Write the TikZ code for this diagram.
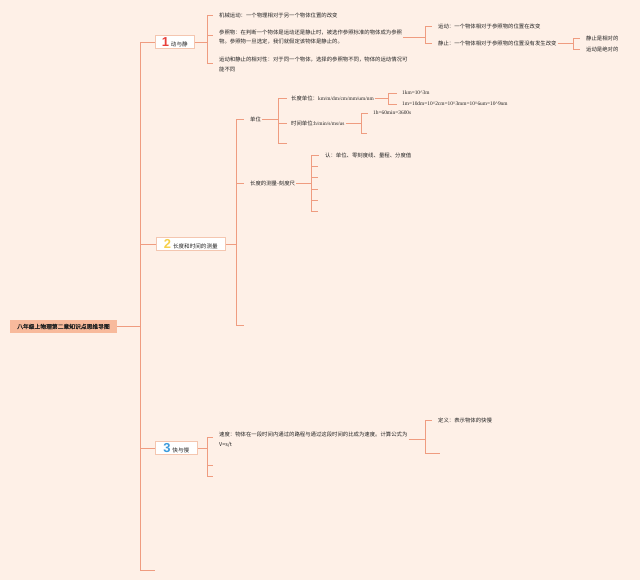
\documentclass[tikz,border=0pt]{standalone}
\usepackage{fontspec}
\setmainfont{Noto Sans CJK SC}
\newfontfamily\cjkbold[FakeBold=1.2]{Noto Sans CJK SC}
\newfontfamily\lat{Liberation Serif}
\newfontfamily\numf{Liberation Sans}
\usetikzlibrary{calc}
\definecolor{bgc}{HTML}{FEF0E7}
\definecolor{linec}{HTML}{EF9C80}
\definecolor{rootc}{HTML}{F8BA9C}
\definecolor{txt}{HTML}{222222}
\definecolor{nA}{HTML}{E8403A}
\definecolor{nB}{HTML}{F6D049}
\definecolor{nC}{HTML}{3C9BDC}
\definecolor{boxline}{HTML}{F4C6B0}
\newcommand{\bnum}[2]{\textcolor{#1}{\numf\bfseries\fontsize{13}{13}\selectfont #2}\hspace{2bp}}
\newcommand{\crt}{\textasciicircum}
\begin{document}
\begin{tikzpicture}[x=1bp,y=-1bp,
 conn/.style={draw=linec,line width=0.8bp},
 leaf/.style={anchor=west,inner xsep=1bp,inner ysep=1bp,text=txt,font=\fontsize{5.4}{9.5}\selectfont,align=left},
 leafm/.style={leaf,anchor=north west},
 branchbox/.style={draw=boxline,fill=white,line width=0.5bp,minimum height=13bp,inner sep=0pt,anchor=west,text=txt,font=\fontsize{5.6}{6}\selectfont},
 rootbox/.style={fill=rootc,minimum width=107bp,minimum height=13bp,inner sep=0pt,text=txt,font=\cjkbold\fontsize{5.8}{6}\selectfont}
]
\fill[bgc] (0,0) rectangle (640,580);
\useasboundingbox (0,0) rectangle (640,580);

% root and trunk
\node[rootbox] (root) at (63.5,326.5) {八年级上物理第二章知识点思维导图};
\coordinate (T) at (140,0);
\node[branchbox,minimum width=39bp] (b1) at (155,42) {\bnum{nA}{1}动与静};
\node[branchbox,minimum width=69bp] (b2) at (156,244) {\bnum{nB}{2}长度和时间的测量};
\node[branchbox,minimum width=42bp] (b3) at (155,448) {\bnum{nC}{3}快与慢};
\coordinate (bend) at (155,570);
\draw[conn] (root.east) -- (root.east -| T) |- (b1.west);
\draw[conn] (root.east -| T) |- (b2.west);
\draw[conn] (root.east -| T) |- (b3.west);
\draw[conn] (root.east -| T) |- (bend);

% branch 1
\coordinate (k1) at (207,0);
\node[leaf] (c11) at (218,15) {机械运动：一个物理相对于另一个物体位置的改变};
\node[leafm] (c12) at (218,28.5) {参照物：在判断一个物体是运动还是静止时，被选作参照标准的物体成为参照\\物。参照物一旦选定，我们就假定该物体是静止的。};
\node[leafm] (c13) at (218,56.2) {运动和静止的相对性：对于同一个物体，选择的参照物不同，物体的运动情况可\\能不同};
\coordinate (c12t) at ($(c12.north west)+(0,6.5)$);
\coordinate (c13t) at ($(c13.north west)+(0,7)$);
\draw[conn] (b1.east) -- (b1.east -| k1);
\draw[conn,shorten >=5bp] (b1.east -| k1) |- (c11.west);
\draw[conn,shorten >=5bp] (b1.east -| k1) |- (c12t);
\draw[conn,shorten >=5bp] (b1.east -| k1) |- (c13t);

\coordinate (k2) at (425,0);
\node[leaf] (d1) at (437,26) {运动：一个物体相对于参照物的位置在改变};
\node[leaf] (d2) at (437,43) {静止：一个物体相对于参照物的位置没有发生改变};
\draw[conn] (c12.east) -- (c12.east -| k2);
\draw[conn,shorten >=5bp] (c12.east -| k2) |- (d1.west);
\draw[conn,shorten >=5bp] (c12.east -| k2) |- (d2.west);

\coordinate (k3) at (573,0);
\node[leaf] (e1) at (585,38) {静止是相对的};
\node[leaf] (e2) at (585,49) {运动是绝对的};
\draw[conn] (d2.east) -- (d2.east -| k3);
\draw[conn,shorten >=5bp] (d2.east -| k3) |- (e1.west);
\draw[conn,shorten >=5bp] (d2.east -| k3) |- (e2.west);

% branch 2
\coordinate (k4) at (236,0);
\node[leaf] (u) at (249,119) {单位};
\node[leaf] (m) at (249,183) {长度的测量-刻度尺};
\coordinate (u3) at (244,325);
\draw[conn] (b2.east) -- (b2.east -| k4);
\draw[conn,shorten >=5bp] (b2.east -| k4) |- (u.west);
\draw[conn,shorten >=5bp] (b2.east -| k4) |- (m.west);
\draw[conn] (b2.east -| k4) |- (u3);

\coordinate (k5) at (278,0);
\node[leaf] (lu) at (290,98) {长度单位：{\lat km/m/dm/cm/mm/um/nm}};
\node[leaf] (tu) at (290,123) {时间单位:{\lat h/min/s/ms/us}};
\coordinate (u4) at (287,143);
\draw[conn] (u.east) -- (u.east -| k5);
\draw[conn,shorten >=3bp] (u.east -| k5) |- (lu.west);
\draw[conn,shorten >=3bp] (u.east -| k5) |- (tu.west);
\draw[conn] (u.east -| k5) |- (u4);

\coordinate (k6) at (388,0);
\node[leaf] (f1) at (401,93) {\lat 1km=10\crt3m};
\node[leaf] (f2) at (401,104) {\lat 1m=10dm=10\crt2cm=10\crt3mm=10\crt6um=10\crt9nm};
\draw[conn] (lu.east) -- (lu.east -| k6);
\draw[conn,shorten >=4bp] (lu.east -| k6) |- (f1.west);
\draw[conn,shorten >=4bp] (lu.east -| k6) |- (f2.west);

\coordinate (k7) at (361,0);
\node[leaf] (g1) at (372,113) {\lat 1h=60min=3600s};
\coordinate (g2) at (367,133);
\draw[conn] (tu.east) -- (tu.east -| k7);
\draw[conn,shorten >=4bp] (tu.east -| k7) |- (g1.west);
\draw[conn] (tu.east -| k7) |- (g2);

\coordinate (k8) at (311,0);
\node[leaf] (h1) at (324,155) {认：单位、零刻度线、量程、分度值};
\coordinate (h2) at (318,166);
\coordinate (h3) at (318,177.3);
\coordinate (h4) at (318,189.3);
\coordinate (h5) at (318,200.7);
\coordinate (h6) at (318,211.7);
\draw[conn] (m.east) -- (m.east -| k8);
\draw[conn,shorten >=5bp] (m.east -| k8) |- (h1.west);
\foreach \q in {h2,h3,h4,h5,h6} \draw[conn] (m.east -| k8) |- (\q);

% branch 3
\coordinate (k9) at (207,0);
\node[leafm] (v) at (218,431.2) {速度：物体在一段时间内通过的路程与通过这段时间的比成为速度。计算公式为\\V=s/t};
\coordinate (vt) at ($(v.north west)+(0,6)$);
\coordinate (v2) at (213,465);
\coordinate (v3) at (213,476);
\draw[conn] (b3.east) -- (b3.east -| k9);
\draw[conn,shorten >=5bp] (b3.east -| k9) |- (vt);
\draw[conn] (b3.east -| k9) |- (v2);
\draw[conn] (b3.east -| k9) |- (v3);

\coordinate (k10) at (425,0);
\node[leaf] (w1) at (437,420) {定义：表示物体的快慢};
\coordinate (w2) at (440,453);
\draw[conn] (v.east) -- (v.east -| k10);
\draw[conn,shorten >=5bp] (v.east -| k10) |- (w1.west);
\draw[conn] (v.east -| k10) |- (w2);
\end{tikzpicture}
\end{document}
